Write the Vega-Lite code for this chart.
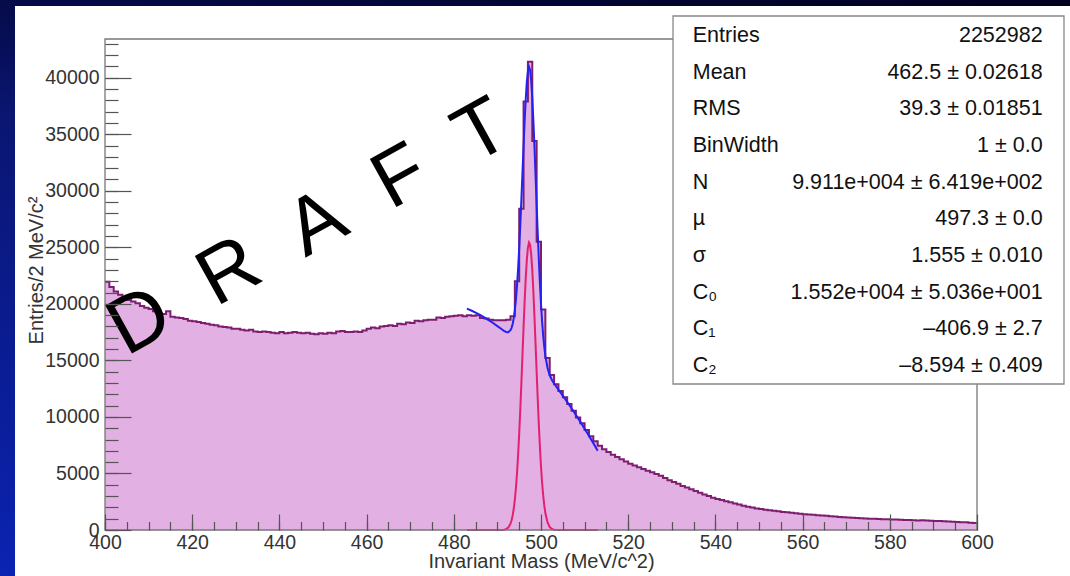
{
  "$schema": "https://vega.github.io/schema/vega-lite/v6.json",
  "width": 872,
  "height": 491,
  "autosize": "none",
  "padding": {"left": 105, "top": 39, "right": 93, "bottom": 46},
  "background": "#000022",
  "view": {"stroke": null},
  "config": {"font": "Liberation Sans", "axis": {"zindex": 1, "grid": false}},
  "datasets": {
    "hist": [
      {"m":400,"n":21950},{"m":401,"n":21500},{"m":402,"n":21100},{"m":403,"n":20800},{"m":404,"n":20500},{"m":405,"n":20350},{"m":406,"n":20200},{"m":407,"n":20050},{"m":408,"n":19800},{"m":409,"n":19650},
      {"m":410,"n":19550},{"m":411,"n":19350},{"m":412,"n":19200},{"m":413,"n":19100},{"m":414,"n":19350},{"m":415,"n":18850},{"m":416,"n":18800},{"m":417,"n":18750},{"m":418,"n":18650},{"m":419,"n":18500},
      {"m":420,"n":18450},{"m":421,"n":18400},{"m":422,"n":18300},{"m":423,"n":18250},{"m":424,"n":18150},{"m":425,"n":18100},{"m":426,"n":18000},{"m":427,"n":17950},{"m":428,"n":17900},{"m":429,"n":17800},
      {"m":430,"n":17800},{"m":431,"n":17700},{"m":432,"n":17650},{"m":433,"n":17700},{"m":434,"n":17550},{"m":435,"n":17500},{"m":436,"n":17550},{"m":437,"n":17500},{"m":438,"n":17450},{"m":439,"n":17400},
      {"m":440,"n":17500},{"m":441,"n":17400},{"m":442,"n":17450},{"m":443,"n":17500},{"m":444,"n":17450},{"m":445,"n":17400},{"m":446,"n":17450},{"m":447,"n":17350},{"m":448,"n":17300},{"m":449,"n":17400},
      {"m":450,"n":17350},{"m":451,"n":17450},{"m":452,"n":17400},{"m":453,"n":17550},{"m":454,"n":17600},{"m":455,"n":17500},{"m":456,"n":17500},{"m":457,"n":17550},{"m":458,"n":17500},{"m":459,"n":17650},
      {"m":460,"n":17800},{"m":461,"n":17900},{"m":462,"n":17850},{"m":463,"n":18000},{"m":464,"n":18050},{"m":465,"n":18100},{"m":466,"n":18050},{"m":467,"n":18250},{"m":468,"n":18200},{"m":469,"n":18350},
      {"m":470,"n":18300},{"m":471,"n":18500},{"m":472,"n":18450},{"m":473,"n":18550},{"m":474,"n":18600},{"m":475,"n":18600},{"m":476,"n":18800},{"m":477,"n":18750},{"m":478,"n":18850},{"m":479,"n":18900},
      {"m":480,"n":18950},{"m":481,"n":19000},{"m":482,"n":18900},{"m":483,"n":19000},{"m":484,"n":18950},{"m":485,"n":19000},{"m":486,"n":18750},{"m":487,"n":18700},{"m":488,"n":18600},{"m":489,"n":18550},
      {"m":490,"n":18550},{"m":491,"n":18550},{"m":492,"n":18600},{"m":493,"n":18900},{"m":494,"n":22000},{"m":495,"n":28400},{"m":496,"n":37900},{"m":497,"n":41400},{"m":498,"n":34400},{"m":499,"n":25500},
      {"m":500,"n":19500},{"m":501,"n":15200},{"m":502,"n":13700},{"m":503,"n":12900},{"m":504,"n":12300},{"m":505,"n":11750},{"m":506,"n":11150},{"m":507,"n":10550},{"m":508,"n":9950},{"m":509,"n":9450},
      {"m":510,"n":8850},{"m":511,"n":8300},{"m":512,"n":7850},{"m":513,"n":7450},{"m":514,"n":7150},{"m":515,"n":6900},{"m":516,"n":6650},{"m":517,"n":6450},{"m":518,"n":6250},{"m":519,"n":6050},
      {"m":520,"n":5850},{"m":521,"n":5700},{"m":522,"n":5550},{"m":523,"n":5400},{"m":524,"n":5250},{"m":525,"n":5100},{"m":526,"n":4950},{"m":527,"n":4800},{"m":528,"n":4600},{"m":529,"n":4400},
      {"m":530,"n":4250},{"m":531,"n":4100},{"m":532,"n":3900},{"m":533,"n":3750},{"m":534,"n":3600},{"m":535,"n":3450},{"m":536,"n":3300},{"m":537,"n":3150},{"m":538,"n":3000},{"m":539,"n":2850},
      {"m":540,"n":2750},{"m":541,"n":2650},{"m":542,"n":2550},{"m":543,"n":2450},{"m":544,"n":2350},{"m":545,"n":2250},{"m":546,"n":2150},{"m":547,"n":2050},{"m":548,"n":1980},{"m":549,"n":1900},
      {"m":550,"n":1850},{"m":551,"n":1800},{"m":552,"n":1750},{"m":553,"n":1700},{"m":554,"n":1650},{"m":555,"n":1600},{"m":556,"n":1560},{"m":557,"n":1520},{"m":558,"n":1480},{"m":559,"n":1440},
      {"m":560,"n":1400},{"m":561,"n":1370},{"m":562,"n":1340},{"m":563,"n":1310},{"m":564,"n":1280},{"m":565,"n":1250},{"m":566,"n":1220},{"m":567,"n":1190},{"m":568,"n":1160},{"m":569,"n":1130},
      {"m":570,"n":1100},{"m":571,"n":1080},{"m":572,"n":1060},{"m":573,"n":1040},{"m":574,"n":1020},{"m":575,"n":1000},{"m":576,"n":990},{"m":577,"n":980},{"m":578,"n":960},{"m":579,"n":950},
      {"m":580,"n":930},{"m":581,"n":920},{"m":582,"n":910},{"m":583,"n":880},{"m":584,"n":890},{"m":585,"n":860},{"m":586,"n":850},{"m":587,"n":860},{"m":588,"n":830},{"m":589,"n":820},
      {"m":590,"n":800},{"m":591,"n":790},{"m":592,"n":780},{"m":593,"n":760},{"m":594,"n":720},{"m":595,"n":700},{"m":596,"n":690},{"m":597,"n":680},{"m":598,"n":650},{"m":599,"n":620},
      {"m":600,"n":620}
    ],
    "fit": [
      {"m":483,"f":19581},{"m":484,"f":19412},{"m":485,"f":19225},{"m":486,"f":19021},{"m":487,"f":18799},{"m":488,"f":18561},{"m":489,"f":18305},{"m":490,"f":18032},{"m":491,"f":17749},{"m":491.5,"f":17615},
      {"m":492,"f":17511},{"m":492.5,"f":17492},{"m":493,"f":17667},{"m":493.25,"f":17882},{"m":493.5,"f":18226},{"m":493.75,"f":18733},{"m":494,"f":19444},{"m":494.25,"f":20396},{"m":494.5,"f":21618},{"m":494.75,"f":23130},
      {"m":495,"f":24927},{"m":495.25,"f":26983},{"m":495.5,"f":29237},{"m":495.75,"f":31605},{"m":496,"f":33964},{"m":496.25,"f":36184},{"m":496.5,"f":38118},{"m":496.75,"f":39629},{"m":497,"f":40602},{"m":497.25,"f":40957},
      {"m":497.5,"f":40659},{"m":497.75,"f":39722},{"m":498,"f":38211},{"m":498.25,"f":36227},{"m":498.5,"f":33900},{"m":498.75,"f":31375},{"m":499,"f":28794},{"m":499.25,"f":26278},{"m":499.5,"f":23931},{"m":499.75,"f":21822},
      {"m":500,"f":19990},{"m":500.25,"f":18450},{"m":500.5,"f":17190},{"m":500.75,"f":16184},{"m":501,"f":15396},{"m":501.5,"f":14322},{"m":502,"f":13682},{"m":502.5,"f":13267},{"m":503,"f":12953},{"m":504,"f":12410},
      {"m":505,"f":11877},{"m":506,"f":11330},{"m":507,"f":10764},{"m":508,"f":10182},{"m":509,"f":9583},{"m":510,"f":8966},{"m":511,"f":8332},{"m":512,"f":7682},{"m":513,"f":7014}
    ],
    "gauss": [
      {"m":483,"g":0},{"m":489,"g":0},{"m":490,"g":0},{"m":491,"g":7},{"m":491.5,"g":24},{"m":492,"g":76},{"m":492.5,"g":217},{"m":493,"g":556},{"m":493.25,"g":856},{"m":493.5,"g":1284},
      {"m":493.75,"g":1877},{"m":494,"g":2675},{"m":494.25,"g":3715},{"m":494.5,"g":5027},{"m":494.75,"g":6628},{"m":495,"g":8517},{"m":495.25,"g":10665},{"m":495.5,"g":13013},{"m":495.75,"g":15474},{"m":496,"g":17930},
      {"m":496.25,"g":20246},{"m":496.5,"g":22278},{"m":496.75,"g":23888},{"m":497,"g":24961},{"m":497.25,"g":25417},{"m":497.5,"g":25221},{"m":497.75,"g":24387},{"m":498,"g":22980},{"m":498.25,"g":21101},{"m":498.5,"g":18881},
      {"m":498.75,"g":16463},{"m":499,"g":13990},{"m":499.25,"g":11584},{"m":499.5,"g":9347},{"m":499.75,"g":7350},{"m":500,"g":5632},{"m":500.25,"g":4205},{"m":500.5,"g":3060},{"m":500.75,"g":2170},{"m":501,"g":1500},
      {"m":501.5,"g":663},{"m":502,"g":264},{"m":502.5,"g":95},{"m":503,"g":31},{"m":504,"g":2},{"m":505,"g":0},{"m":513,"g":0}
    ],
    "stats": [
      {"row":1,"name":"Entries","value":"2252982"},
      {"row":2,"name":"Mean","value":"462.5 ± 0.02618"},
      {"row":3,"name":"RMS","value":"39.3 ± 0.01851"},
      {"row":4,"name":"BinWidth","value":"1 ± 0.0"},
      {"row":5,"name":"N","value":"9.911e+004 ± 6.419e+002"},
      {"row":6,"name":"µ","value":"497.3 ± 0.0"},
      {"row":7,"name":"σ","value":"1.555 ± 0.010"},
      {"row":8,"name":"C₀","value":"1.552e+004 ± 5.036e+001"},
      {"row":9,"name":"C₁","value":"–406.9 ± 2.7"},
      {"row":10,"name":"C₂","value":"–8.594 ± 0.409"}
    ]
  },
  "resolve": {"scale": {"y": "independent"}, "axis": {"x": "independent", "y": "independent"}},
  "layer": [
    {
      "data": {"values": [{}]},
      "mark": {"type": "rect", "fill": {"gradient": "linear", "x1": 0, "y1": 1, "x2": 1, "y2": 0, "stops": [{"offset": 0, "color": "#0b24b4"}, {"offset": 0.08, "color": "#0a20a6"}, {"offset": 0.4, "color": "#0a1672"}, {"offset": 0.5, "color": "#050a48"}, {"offset": 1, "color": "#00001e"}]}},
      "encoding": {
        "x": {"datum": 375, "type": "quantitative", "scale": {"domain": [400, 600], "nice": false, "zero": false}, "axis": null},
        "x2": {"datum": 623},
        "y": {"datum": 47500, "type": "quantitative", "scale": {"domain": [0, 43420], "nice": false}, "axis": null},
        "y2": {"datum": -4500}
      }
    },
    {
      "data": {"values": [{}]},
      "mark": {"type": "rect", "fill": "#ffffff"},
      "encoding": {
        "x": {"datum": 379.36, "type": "quantitative", "axis": null},
        "x2": {"datum": 623},
        "y": {"datum": 46337, "type": "quantitative", "scale": {"domain": [0, 43420], "nice": false}, "axis": null},
        "y2": {"datum": -4500}
      }
    },
    {
      "data": {"name": "hist"},
      "mark": {"type": "area", "interpolate": "step-after", "fill": "#e2b0e2"},
      "encoding": {
        "x": {"field": "m", "type": "quantitative", "scale": {"domain": [400, 600], "nice": false, "zero": false},
          "axis": {"orient": "bottom", "zindex": 2, "values": [400,420,440,460,480,500,520,540,560,580,600], "format": "d", "ticks": false, "domain": false, "labelFontSize": 19.5, "labelColor": "#333333", "labelPadding": 3, "labelFlush": false, "labelOverlap": false,
            "title": "Invariant Mass (MeV/c^2)", "titleFontSize": 20, "titleFontWeight": "normal", "titleColor": "#333333", "titleY": 37.5, "titleBaseline": "alphabetic"}},
        "y": {"field": "n", "type": "quantitative", "scale": {"domain": [0, 43420], "nice": false},
          "axis": {"orient": "left", "zindex": 2, "values": [0,5000,10000,15000,20000,25000,30000,35000,40000], "format": "d", "ticks": false, "domain": false, "labelFontSize": 19.5, "labelColor": "#333333", "labelPadding": 6, "labelFlush": false, "labelOverlap": false,
            "title": "Entries/2 MeV/c²", "titleFontSize": 20, "titleFontWeight": "normal", "titleColor": "#333333", "titleX": -63, "titleY": 231, "titleAngle": 270, "titleAlign": "center", "titleBaseline": "alphabetic"}}
      }
    },
    {
      "data": {"name": "hist"},
      "mark": {"type": "line", "interpolate": "step-after", "color": "#7d1f70", "strokeWidth": 2},
      "encoding": {
        "x": {"field": "m", "type": "quantitative",
          "axis": {"orient": "bottom", "zindex": 2, "values": [400,420,440,460,480,500,520,540,560,580,600], "tickSize": -16, "tickColor": "#555555", "tickWidth": 1.2, "labels": false, "domain": false, "title": null}},
        "y": {"field": "n", "type": "quantitative", "scale": {"domain": [0, 43420], "nice": false},
          "axis": {"orient": "left", "zindex": 2, "values": [0,5000,10000,15000,20000,25000,30000,35000,40000], "tickSize": -26, "tickColor": "#555555", "tickWidth": 1.2, "labels": false, "domain": false, "title": null}}
      }
    },
    {
      "data": {"name": "gauss"},
      "mark": {"type": "line", "color": "#e3206f", "strokeWidth": 2},
      "encoding": {
        "x": {"field": "m", "type": "quantitative",
          "axis": {"orient": "bottom", "zindex": 2, "values": [400,405,410,415,420,425,430,435,440,445,450,455,460,465,470,475,480,485,490,495,500,505,510,515,520,525,530,535,540,545,550,555,560,565,570,575,580,585,590,595,600], "tickSize": -8.5, "tickColor": "#555555", "tickWidth": 1.2, "labels": false, "domain": false, "title": null}},
        "y": {"field": "g", "type": "quantitative", "scale": {"domain": [0, 43420], "nice": false},
          "axis": {"orient": "left", "zindex": 2, "values": [0,1000,2000,3000,4000,5000,6000,7000,8000,9000,10000,11000,12000,13000,14000,15000,16000,17000,18000,19000,20000,21000,22000,23000,24000,25000,26000,27000,28000,29000,30000,31000,32000,33000,34000,35000,36000,37000,38000,39000,40000,41000,42000,43000], "tickSize": -13, "tickColor": "#555555", "tickWidth": 1.2, "labels": false, "domain": false, "title": null}}
      }
    },
    {
      "data": {"name": "fit"},
      "mark": {"type": "line", "color": "#2222f5", "strokeWidth": 2},
      "encoding": {
        "x": {"field": "m", "type": "quantitative", "axis": null},
        "y": {"field": "f", "type": "quantitative", "scale": {"domain": [0, 43420], "nice": false}, "axis": null}
      }
    },
    {
      "data": {"values": [{}]},
      "mark": {"type": "rect", "filled": false, "stroke": "#777777", "strokeWidth": 1.3},
      "encoding": {
        "x": {"datum": 400, "type": "quantitative", "axis": null},
        "x2": {"datum": 600},
        "y": {"datum": 0, "type": "quantitative", "scale": {"domain": [0, 43420], "nice": false}, "axis": null},
        "y2": {"datum": 43420}
      }
    },
    {
      "data": {"values": [{}]},
      "mark": {"type": "text", "text": "D\u00a0\u00a0R\u00a0\u00a0A\u00a0\u00a0F\u00a0\u00a0T", "fontSize": 80, "angle": 331, "align": "center", "baseline": "middle", "color": "#000000"},
      "encoding": {
        "x": {"datum": 446.8, "type": "quantitative", "axis": null},
        "y": {"datum": 26700, "type": "quantitative", "scale": {"domain": [0, 43420], "nice": false}, "axis": null}
      }
    },
    {
      "data": {"values": [{}]},
      "mark": {"type": "rect", "fill": "#ffffff", "stroke": "#888888", "strokeWidth": 1.3},
      "encoding": {
        "x": {"datum": 530.28, "type": "quantitative", "axis": null},
        "x2": {"datum": 619.95},
        "y": {"datum": 45453, "type": "quantitative", "scale": {"domain": [0, 43420], "nice": false}, "axis": null},
        "y2": {"datum": 12911}
      }
    },
    {
      "data": {"name": "stats"},
      "mark": {"type": "text", "align": "left", "baseline": "middle", "fontSize": 21.5, "color": "#111111"},
      "encoding": {
        "x": {"datum": 534.8, "type": "quantitative", "axis": null},
        "y": {"field": "row", "type": "quantitative", "scale": {"domain": [1.0818, 14.472], "reverse": true, "nice": false, "zero": false}, "axis": null},
        "text": {"field": "name"}
      }
    },
    {
      "data": {"name": "stats"},
      "mark": {"type": "text", "align": "right", "baseline": "middle", "fontSize": 21.5, "color": "#111111"},
      "encoding": {
        "x": {"datum": 615.06, "type": "quantitative", "axis": null},
        "y": {"field": "row", "type": "quantitative", "scale": {"domain": [1.0818, 14.472], "reverse": true, "nice": false, "zero": false}, "axis": null},
        "text": {"field": "value"}
      }
    }
  ]
}
